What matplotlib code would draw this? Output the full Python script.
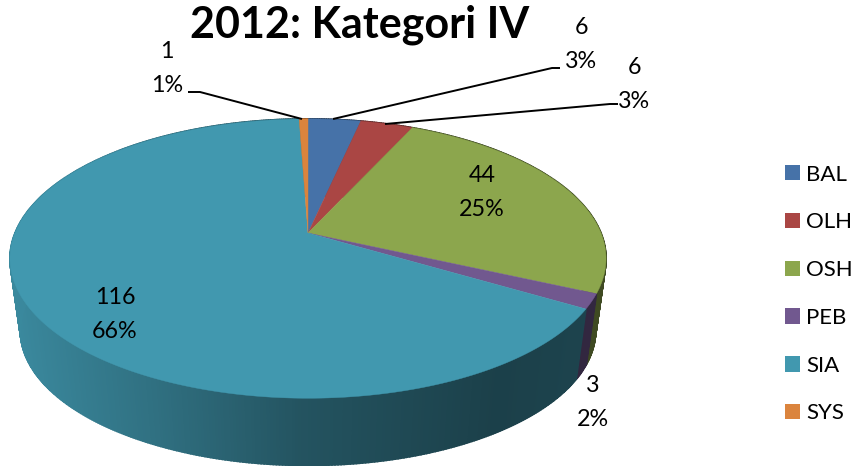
import numpy as np
import matplotlib
matplotlib.use('Agg')
import matplotlib.pyplot as plt
from matplotlib.patches import Patch

plt.rcParams['font.family'] = ['Lato', 'DejaVu Sans']

# data, clockwise from 12 o'clock
categories = ['BAL', 'OLH', 'OSH', 'PEB', 'SIA', 'SYS']
values = [6, 6, 44, 3, 116, 1]
percents = ['3%', '3%', '25%', '2%', '66%', '1%']
colors = ['#4672A8', '#AA4644', '#8CA64D', '#71588F', '#4198AF', '#DB843D']

# pie geometry in pixels, perspective squashed circle
CX, CY = 308, 233
W, H, K = 293, 135, 0.183
DROP, SHRINK = 73, 0.965


def project(t):
    x, y = np.sin(t), np.cos(t)
    d = 1 + K * y
    return CX + W * x / d, CY - H * y / d


def lower(x, y):
    # bottom rim is a bit smaller than the top one
    return CX + (x - CX) * SHRINK, CY + DROP + (y - CY) * SHRINK


def shade(c, X):
    f = np.interp(X, [10, 150, 300, 500, 610], [0.90, 0.74, 0.55, 0.42, 0.45])
    return tuple(v * f for v in matplotlib.colors.to_rgb(c))


fig = plt.figure(figsize=(8.55, 4.66), dpi=100)
ax = fig.add_axes([0, 0, 1, 1])
ax.set_xlim(0, 855)
ax.set_ylim(466, 0)
ax.axis('off')

edges = np.cumsum([0] + values) / sum(values) * 2 * np.pi

# side wall first, top face goes over it
for i, c in enumerate(colors):
    ts = np.linspace(edges[i], edges[i + 1], max(3, int(values[i] * 4)))
    for a, b in zip(ts[:-1], ts[1:]):
        xa, ya = project(a)
        xb, yb = project(b)
        xa2, ya2 = lower(xa, ya)
        xb2, yb2 = lower(xb, yb)
        col = shade(c, (xa + xb) / 2)
        ax.fill([xa, xb, xb2, xa2], [ya, yb, yb2, ya2],
                color=col, lw=1.2, zorder=1)

# top face
for i, c in enumerate(colors):
    ts = np.linspace(edges[i], edges[i + 1], max(3, int(values[i] * 3)))
    xs, ys = project(ts)
    ax.fill(np.r_[CX, xs], np.r_[CY, ys], color=c, lw=0.3, zorder=2)

# labels
label_pos = [(581, 45), (634, 85), (482, 193), (593, 403), (115, 315), (167, 69)]
for v, p, (lx, ly) in zip(values, percents, label_pos):
    ax.text(lx, ly - 17, str(v), ha='center', va='center', fontsize=16.8, color='black', zorder=4)
    ax.text(lx, ly + 17, p, ha='center', va='center', fontsize=16.8, color='black', zorder=4)

# leader lines
leaders = [
    ([333, 552, 560], [119, 68, 68]),
    ([385, 610, 618], [124, 104, 104]),
    ([302, 200, 188], [119, 92, 92]),
]
for lx, ly in leaders:
    ax.plot(lx, ly, color='black', lw=1.4, zorder=3, solid_capstyle='butt')

ax.text(360, 25, '2012: Kategori IV', ha='center', va='center', fontsize=31,
        fontweight='bold', color='black', zorder=4)

handles = [Patch(facecolor=c, edgecolor='none', label=n) for n, c in zip(categories, colors)]
ax.legend(handles=handles, loc='center left', bbox_to_anchor=(785 / 855, 1 - 294 / 466),
          frameon=False, fontsize=16, handlelength=0.68, handleheight=0.68,
          handletextpad=0.27, labelspacing=1.25, borderpad=0, borderaxespad=0)

fig.savefig('out.png', dpi=100)
